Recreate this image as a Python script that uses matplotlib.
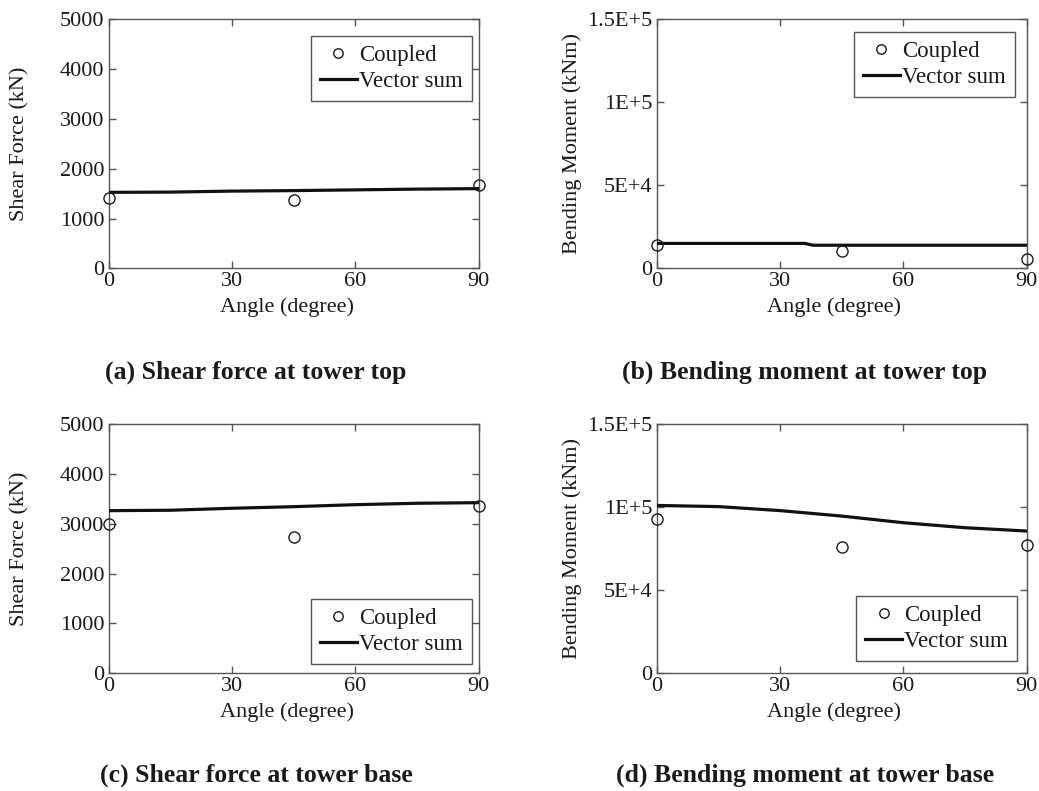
import matplotlib
matplotlib.use("Agg")
import matplotlib.pyplot as plt

plt.rcParams['font.family'] = ['Liberation Serif', 'DejaVu Serif']
plt.rcParams['font.size'] = 16
plt.rcParams['text.color'] = '#1a1a1a'
plt.rcParams['axes.labelcolor'] = '#1a1a1a'
plt.rcParams['xtick.color'] = '#555555'
plt.rcParams['ytick.color'] = '#555555'
plt.rcParams['xtick.labelcolor'] = '#1a1a1a'
plt.rcParams['ytick.labelcolor'] = '#1a1a1a'

# coupled analysis results at the three wave/wind angles
coupled_angle = [0, 45, 90]
shear_top_coupled = [1420, 1370, 1675]
moment_top_coupled = [14000, 10500, 5600]
shear_base_coupled = [3000, 2730, 3355]
moment_base_coupled = [92600, 76200, 77400]

# vector sum curves
vs_angle = [0, 15, 30, 45, 60, 75, 90]
shear_top_vs = [1525, 1530, 1550, 1560, 1575, 1590, 1600]
shear_base_vs = [3262, 3270, 3310, 3342, 3382, 3410, 3422]
moment_base_vs = [101000, 100300, 97900, 94600, 90600, 87600, 85600]

vs_angle_mtop = [0, 15, 30, 36, 38, 45, 60, 75, 90]
moment_top_vs = [15000, 15000, 15000, 15000, 13900, 13900, 13900, 13900, 13900]

shear_ticks = [0, 1000, 2000, 3000, 4000, 5000]
moment_ticks = [0, 50000, 100000, 150000]
moment_ticklabels = ['0', '5E+4', '1E+5', '1.5E+5']
angle_ticks = [0, 30, 60, 90]

fig = plt.figure(figsize=(10.39, 7.91), dpi=100)

W, H = 1039, 791


def make_axes(x0, y0, x1, y1):
    return fig.add_axes([x0 / W, 1 - y1 / H, (x1 - x0) / W, (y1 - y0) / H])


def style(ax, ylim, yticks, ylabel, ylab_x, xlab_x, yticklabels=None):
    ax.set_xlim(0, 90)
    ax.set_ylim(*ylim)
    ax.set_xticks(angle_ticks)
    ax.set_yticks(yticks)
    if yticklabels is not None:
        ax.set_yticklabels(yticklabels)
    ax.tick_params(direction='in', top=True, right=True, length=5, width=1, pad=3)
    for s in ax.spines.values():
        s.set_color('#555555')
        s.set_linewidth(1.0)
    ax.set_xlabel('Angle (degree)')
    ax.set_ylabel(ylabel)
    ax.xaxis.set_label_coords(xlab_x, -0.115)
    ax.yaxis.set_label_coords(ylab_x, 0.5)


def draw(ax, cx, cy, vx, vy, legend_loc, anchor):
    ax.plot(cx, cy, 'o', mfc='none', mec='#1a1a1a', ms=8, mew=1.0,
            label='Coupled', clip_on=False, zorder=4)
    ax.plot(vx, vy, '-', color='#111111', lw=2.3, label='Vector sum', zorder=3)
    leg = ax.legend(loc=legend_loc, bbox_to_anchor=anchor, fancybox=False,
                    borderaxespad=0, handlelength=1.6, handletextpad=0.1,
                    borderpad=0.4, labelspacing=0.2, framealpha=1,
                    fontsize=16.5, markerscale=0.85)
    leg.get_frame().set_edgecolor('#555555')
    leg.get_frame().set_linewidth(1.0)


# (a) shear force at tower top
ax_a = make_axes(108.7, 19.3, 478.7, 268.3)
draw(ax_a, coupled_angle, shear_top_coupled, vs_angle, shear_top_vs,
     'upper right', (0.982, 0.933))
style(ax_a, (0, 5000), shear_ticks, 'Shear Force (kN)', -0.213, 0.482)

# (b) bending moment at tower top
ax_b = make_axes(656.7, 19.3, 1026.7, 268.3)
draw(ax_b, coupled_angle, moment_top_coupled, vs_angle_mtop, moment_top_vs,
     'upper right', (0.968, 0.949))
style(ax_b, (0, 150000), moment_ticks, 'Bending Moment (kNm)', -0.202, 0.479,
      moment_ticklabels)

# (c) shear force at tower base
ax_c = make_axes(108.7, 424, 478.7, 673.3)
draw(ax_c, coupled_angle, shear_base_coupled, vs_angle, shear_base_vs,
     'lower right', (0.982, 0.037))
style(ax_c, (0, 5000), shear_ticks, 'Shear Force (kN)', -0.213, 0.482)

# (d) bending moment at tower base
ax_d = make_axes(656.7, 424, 1026.7, 673.3)
draw(ax_d, coupled_angle, moment_base_coupled, vs_angle, moment_base_vs,
     'lower right', (0.974, 0.049))
style(ax_d, (0, 150000), moment_ticks, 'Bending Moment (kNm)', -0.202, 0.479,
      moment_ticklabels)

captions = [
    (256, 372, '(a) Shear force at tower top'),
    (805, 372, '(b) Bending moment at tower top'),
    (256, 775, '(c) Shear force at tower base'),
    (805, 775, '(d) Bending moment at tower base'),
]
for cx, cy, txt in captions:
    fig.text(cx / W, 1 - cy / H, txt, ha='center', va='center',
             fontsize=18.5, fontweight='bold')

fig.savefig('out.png', dpi=100)
